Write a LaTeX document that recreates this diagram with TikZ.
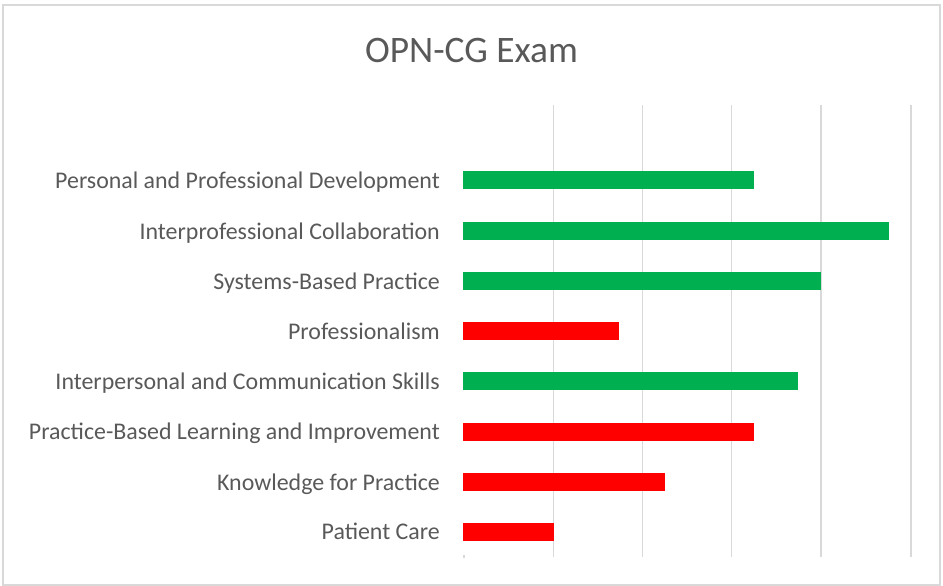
\documentclass[tikz,border=0pt]{standalone}
\usepackage{fontspec}
\setmainfont{Carlito}
\definecolor{txt}{HTML}{595959}
\definecolor{gridc}{HTML}{D9D9D9}
\definecolor{good}{HTML}{00B050}
\definecolor{bad}{HTML}{FF0000}
\begin{document}
\begin{tikzpicture}[x=1pt,y=-1pt,
  lab/.style={anchor=base east,inner sep=0pt,text=txt,font=\fontsize{23.9}{24}\selectfont},
  ttl/.style={anchor=base,inner sep=0pt,text=txt,font=\fontsize{37.4}{38}\selectfont},
  barbox/.style={anchor=west,inner sep=0pt,minimum height=18pt,draw=none},
  gridline/.style={draw=gridc,line width=1.6pt},
  frame/.style={draw=gridc,line width=1.4pt}]
\useasboundingbox (0,0) rectangle (943,586);
\draw[frame] (3,5) rectangle (940,585);
\foreach \gx in {553.3,642.3,731.5,821,911}
  \draw[gridline] (\gx,105) -- (\gx,557);
\draw[gridc,line width=1.2pt] (464,555) -- (464,558);
\node[ttl] (title) at (471.5,63) {OPN-CG Exam};
\foreach \i/\yc/\w/\c/\t in {
  1/180/291/good/Personal and Professional Development,
  2/231/426/good/Interprofessional Collaboration,
  3/281/358/good/Systems-Based Practice,
  4/331/156/bad/Professionalism,
  5/381/335/good/Interpersonal and Communication Skills,
  6/431.5/291/bad/Practice-Based Learning and Improvement,
  7/482/202/bad/Knowledge for Practice,
  8/531.5/91/bad/Patient Care}{
  \node[barbox,fill=\c,minimum width=\w pt] (bar\i) at (463,\yc) {};
  \node[lab] (lab\i) at (440,\yc+8) {\t};
}
\end{tikzpicture}
\end{document}
